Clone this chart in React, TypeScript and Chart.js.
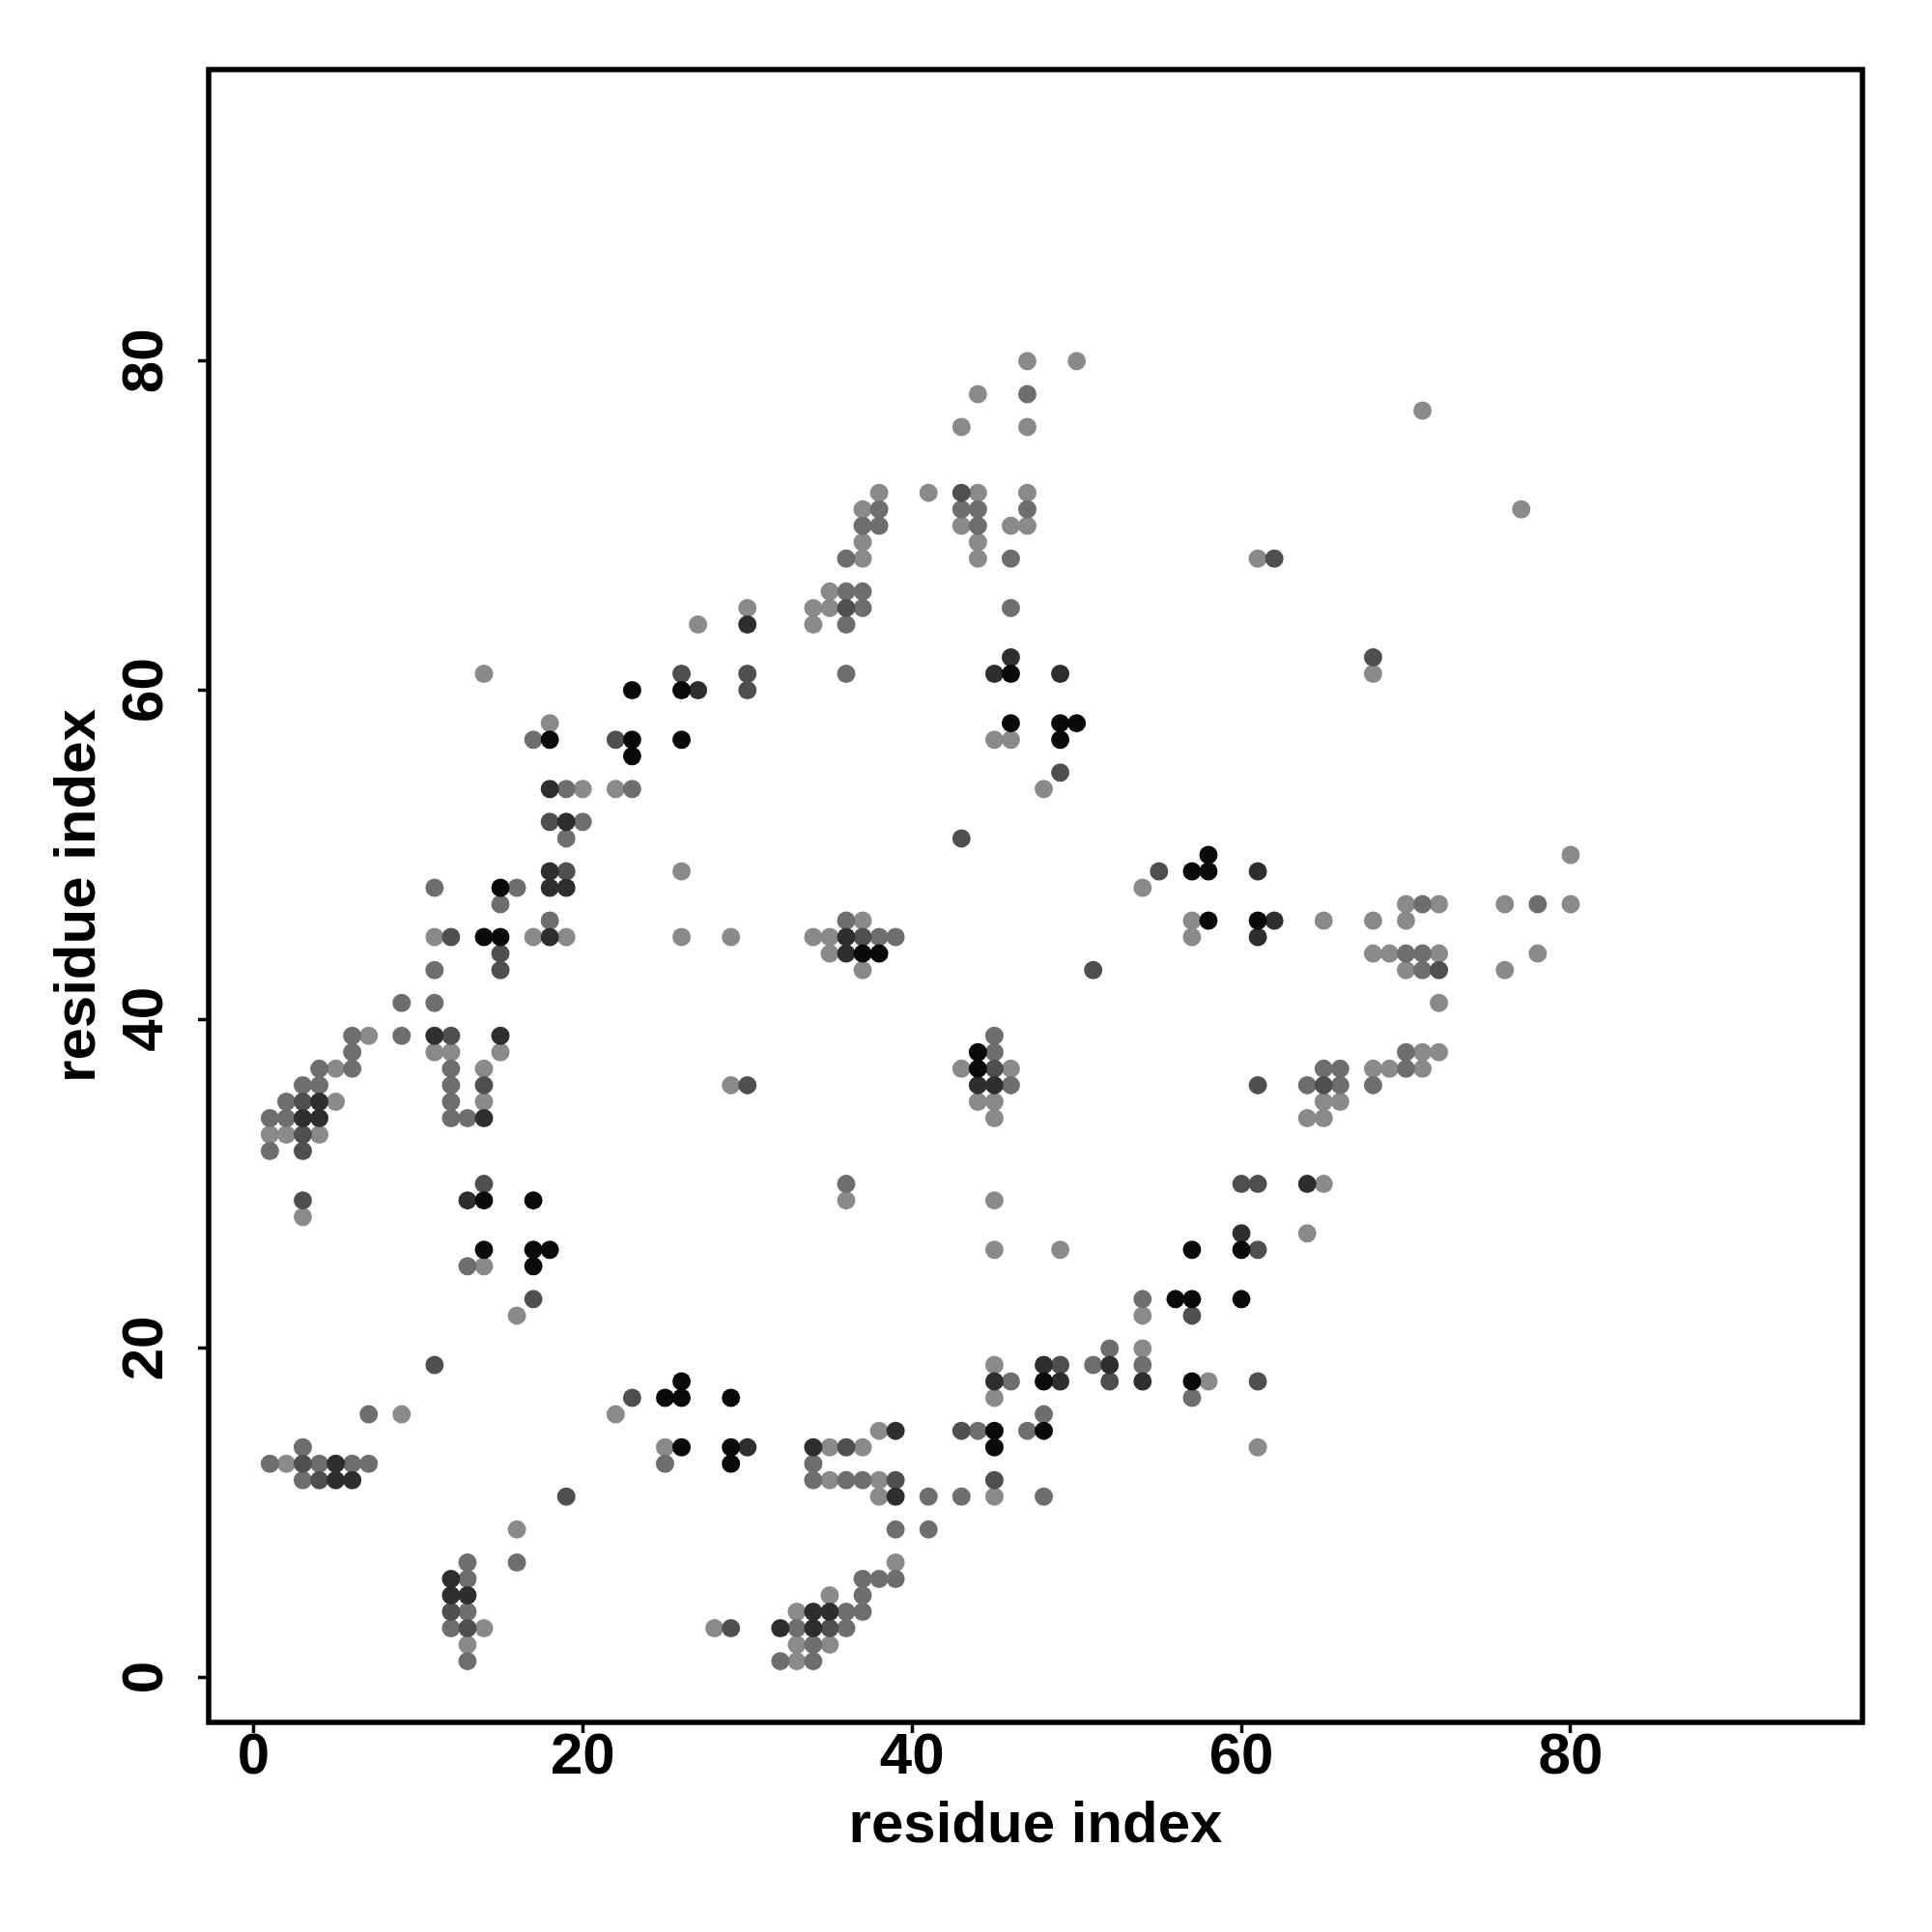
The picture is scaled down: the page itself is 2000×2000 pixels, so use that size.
import React, { useEffect, useRef } from "react";
import { Chart, registerables } from "chart.js";

Chart.register(...registerables);

// ---- data ----
const tickValues = [0, 20, 40, 60, 80];
const xAxisTitle = "residue index";
const yAxisTitle = "residue index";
const axisMin = -2.72;
const axisMax = 97.72;

// contact pairs [i, j], grouped by shade level (lightest -> darkest)
const contactsLevel1: [number, number][] = [
  [14, 25], [16, 22], [9, 16], [2, 13], [22, 16], [25, 14], [16, 9], [14, 3], [13, 2],
  [45, 26], [49, 26], [45, 19], [45, 17], [38, 15], [35, 14], [37, 14], [35, 12], [38, 12], [38, 11], [45, 11],
  [39, 7], [35, 5], [33, 4], [28, 3], [33, 2], [35, 2], [33, 1],
  [54, 22], [54, 20], [58, 18], [61, 14],
  [26, 49], [11, 45], [17, 45], [19, 45], [26, 45], [7, 39], [11, 38], [12, 38], [15, 38], [5, 37], [14, 37],
  [5, 35], [14, 35], [1, 33], [2, 33], [4, 33], [3, 28],
  [37, 46], [29, 45], [34, 45], [35, 45], [35, 44], [37, 43], [43, 37], [46, 37], [44, 35], [45, 35], [45, 34],
  [29, 36], [36, 29], [45, 29],
  [80, 50], [54, 48], [70, 47], [72, 47], [76, 47], [80, 47], [57, 46], [65, 46], [68, 46], [70, 46], [57, 45],
  [68, 44], [69, 44], [72, 44], [78, 44], [70, 43], [76, 43], [72, 41], [71, 38], [72, 38], [68, 37], [69, 37],
  [71, 37], [65, 35], [66, 35], [64, 34], [65, 34], [65, 30], [64, 27],
  [14, 61], [18, 58], [20, 54], [22, 54],
  [47, 80], [50, 80], [44, 78], [43, 76], [47, 76], [38, 72], [41, 72], [44, 72], [47, 72], [37, 71], [43, 70],
  [46, 70], [47, 70], [37, 69], [44, 69], [37, 68], [44, 68], [35, 66], [30, 65], [34, 65], [35, 65], [27, 64],
  [34, 64], [45, 57], [46, 57], [48, 54],
  [71, 77], [77, 71], [61, 68], [68, 61],
];

const contactsLevel2: [number, number][] = [
  [13, 25], [7, 16], [3, 14], [1, 13], [4, 13], [6, 13], [7, 13], [3, 12], [25, 13], [16, 7], [13, 7], [13, 6],
  [13, 4], [12, 3], [13, 1],
  [52, 20], [51, 19], [46, 18], [48, 16], [44, 15], [47, 15], [34, 13], [34, 12], [36, 12], [37, 12], [41, 11],
  [43, 11], [48, 11], [39, 9], [41, 9], [37, 6], [38, 6], [39, 6], [37, 5], [36, 4], [37, 4], [33, 3], [36, 3],
  [34, 2], [32, 1], [34, 1],
  [54, 23], [54, 19], [57, 17],
  [20, 52], [19, 51], [11, 48], [16, 48], [15, 47], [18, 46], [11, 43], [9, 41], [11, 41], [6, 39], [9, 39],
  [6, 38], [4, 37], [6, 37], [12, 37], [3, 36], [4, 36], [12, 36], [2, 35], [12, 35], [1, 34], [2, 34], [12, 34],
  [13, 34], [1, 32],
  [36, 46], [38, 45], [39, 45], [45, 39], [45, 38], [46, 36], [36, 30],
  [71, 47], [78, 47], [70, 44], [71, 44], [71, 43], [70, 38], [65, 37], [66, 37], [70, 37], [64, 36], [66, 36], [68, 36],
  [17, 57], [19, 54], [23, 54],
  [47, 78], [38, 71], [43, 71], [44, 71], [47, 71], [37, 70], [38, 70], [44, 70], [36, 68], [46, 68], [36, 66],
  [37, 66], [37, 65], [46, 65], [36, 64], [36, 61],
];

const contactsLevel3: [number, number][] = [
  [17, 23], [11, 19], [3, 13], [4, 12], [23, 17], [19, 11], [12, 4], [13, 3],
  [49, 19], [52, 18], [43, 15], [36, 14], [39, 12], [45, 12], [29, 3], [35, 3],
  [61, 26], [57, 22], [61, 18],
  [18, 52], [19, 49], [12, 45], [15, 44], [15, 43], [12, 39], [14, 36], [3, 35], [3, 33], [3, 32], [3, 29], [14, 30],
  [43, 51], [37, 45], [51, 43], [45, 37], [30, 36],
  [55, 49], [72, 43], [61, 36], [65, 36], [60, 30], [61, 30],
  [26, 61], [22, 57],
  [43, 72], [36, 65], [30, 61], [30, 60], [49, 55],
  [62, 68], [68, 62],
];

const contactsLevel4: [number, number][] = [
  [5, 13], [5, 12], [6, 12], [12, 6], [12, 5], [13, 5],
  [48, 19], [52, 19], [45, 18], [49, 18], [39, 15], [30, 14], [34, 14], [39, 11], [34, 4], [35, 4], [32, 3], [34, 3],
  [54, 18],
  [19, 52], [18, 49], [18, 48], [19, 48], [18, 45], [11, 39], [15, 39], [4, 35], [3, 34], [4, 34], [14, 34], [13, 29],
  [36, 45], [36, 44], [44, 36], [45, 36],
  [61, 49], [62, 46], [61, 45], [64, 30], [60, 27],
  [18, 54], [27, 60],
  [30, 64], [45, 61], [49, 61], [46, 62],
];

const contactsLevel5: [number, number][] = [
  [14, 26], [17, 26], [18, 26], [17, 25], [25, 17], [26, 18], [26, 17], [26, 14],
  [29, 17], [48, 18], [45, 15], [48, 15], [29, 14], [45, 14], [29, 13],
  [57, 26], [60, 26], [56, 23], [57, 23], [60, 23], [57, 18],
  [15, 48], [14, 45], [15, 45], [14, 29], [17, 29],
  [37, 44], [38, 44], [44, 38], [44, 37],
  [58, 50], [57, 49], [58, 49], [58, 46], [61, 46],
  [23, 60], [26, 60], [18, 57], [23, 57], [26, 57], [23, 56],
  [46, 61], [46, 58], [49, 58], [50, 58], [49, 57],
];

// ---- styles ----
const levelColors = ["#8a8a8a", "#6e6e6e", "#4f4f4f", "#2e2e2e", "#0a0a0a"];
const FONT = "'Liberation Sans', Arial, Helvetica, sans-serif";

const boxPlugin = {
  id: "frameBox",
  afterDraw(chart: any) {
    const { ctx, chartArea } = chart;
    const { left, top, right, bottom } = chartArea;
    ctx.save();
    ctx.strokeStyle = "#000";
    ctx.lineWidth = 5.5;
    ctx.lineJoin = "miter";
    ctx.strokeRect(left, top, right - left, bottom - top);
    ctx.restore();
  },
};

export default function App() {
  const canvasRef = useRef<HTMLCanvasElement | null>(null);

  useEffect(() => {
    if (!canvasRef.current) return;
    const levels = [contactsLevel1, contactsLevel2, contactsLevel3, contactsLevel4, contactsLevel5];
    const datasets = levels.map((pts, i) => ({
      label: `level ${i + 1}`,
      data: pts.map(([x, y]) => ({ x, y })),
      pointRadius: 9.5,
      pointHoverRadius: 9.5,
      pointBackgroundColor: levelColors[i],
      pointBorderColor: levelColors[i],
      pointBorderWidth: 0,
      showLine: false,
      order: levels.length - i,
    }));

    const tickFont = { family: FONT, size: 60, weight: "bold" as const };
    const setTicks = (scale: any) => {
      scale.ticks = tickValues.map((v) => ({ value: v }));
    };

    const chart = new Chart(canvasRef.current, {
      type: "scatter",
      data: { datasets },
      plugins: [boxPlugin],
      options: {
        responsive: false,
        devicePixelRatio: 1,
        animation: false,
        layout: { padding: { top: 72, right: 72, left: 0, bottom: 0 } },
        plugins: { legend: { display: false }, tooltip: { enabled: false } },
        scales: {
          x: {
            type: "linear",
            min: axisMin,
            max: axisMax,
            afterBuildTicks: setTicks,
            afterFit: (s: any) => {
              s.height = 217;
            },
            border: { display: false },
            grid: {
              display: true,
              drawOnChartArea: false,
              drawTicks: true,
              tickLength: 11,
              tickWidth: 3.5,
              tickColor: "#000",
            },
            ticks: {
              color: "#000",
              font: tickFont,
              padding: -11,
              minRotation: 0,
              maxRotation: 0,
              autoSkip: false,
            },
            title: {
              display: true,
              text: xAxisTitle,
              color: "#000",
              font: tickFont,
              padding: { top: 0, bottom: 74 },
            },
          },
          y: {
            type: "linear",
            min: axisMin,
            max: axisMax,
            afterBuildTicks: setTicks,
            afterFit: (s: any) => {
              s.width = 216;
            },
            border: { display: false },
            grid: {
              display: true,
              drawOnChartArea: false,
              drawTicks: true,
              tickLength: 11,
              tickWidth: 3.5,
              tickColor: "#000",
            },
            ticks: {
              color: "#000",
              font: tickFont,
              padding: 20,
              minRotation: 90,
              maxRotation: 90,
              crossAlign: "center",
              autoSkip: false,
            },
            title: {
              display: true,
              text: yAxisTitle,
              color: "#000",
              font: tickFont,
              padding: { top: 45, bottom: 0 },
            },
          },
        },
      },
    } as any);

    return () => {
      chart.destroy();
    };
  }, []);

  return (
    <div
      style={{
        position: "fixed",
        left: 0,
        top: 0,
        width: 2000,
        height: 2000,
        background: "#ffffff",
      }}
    >
      <canvas
        ref={canvasRef}
        width={2000}
        height={2000}
        style={{ width: 2000, height: 2000, display: "block" }}
      />
    </div>
  );
}
